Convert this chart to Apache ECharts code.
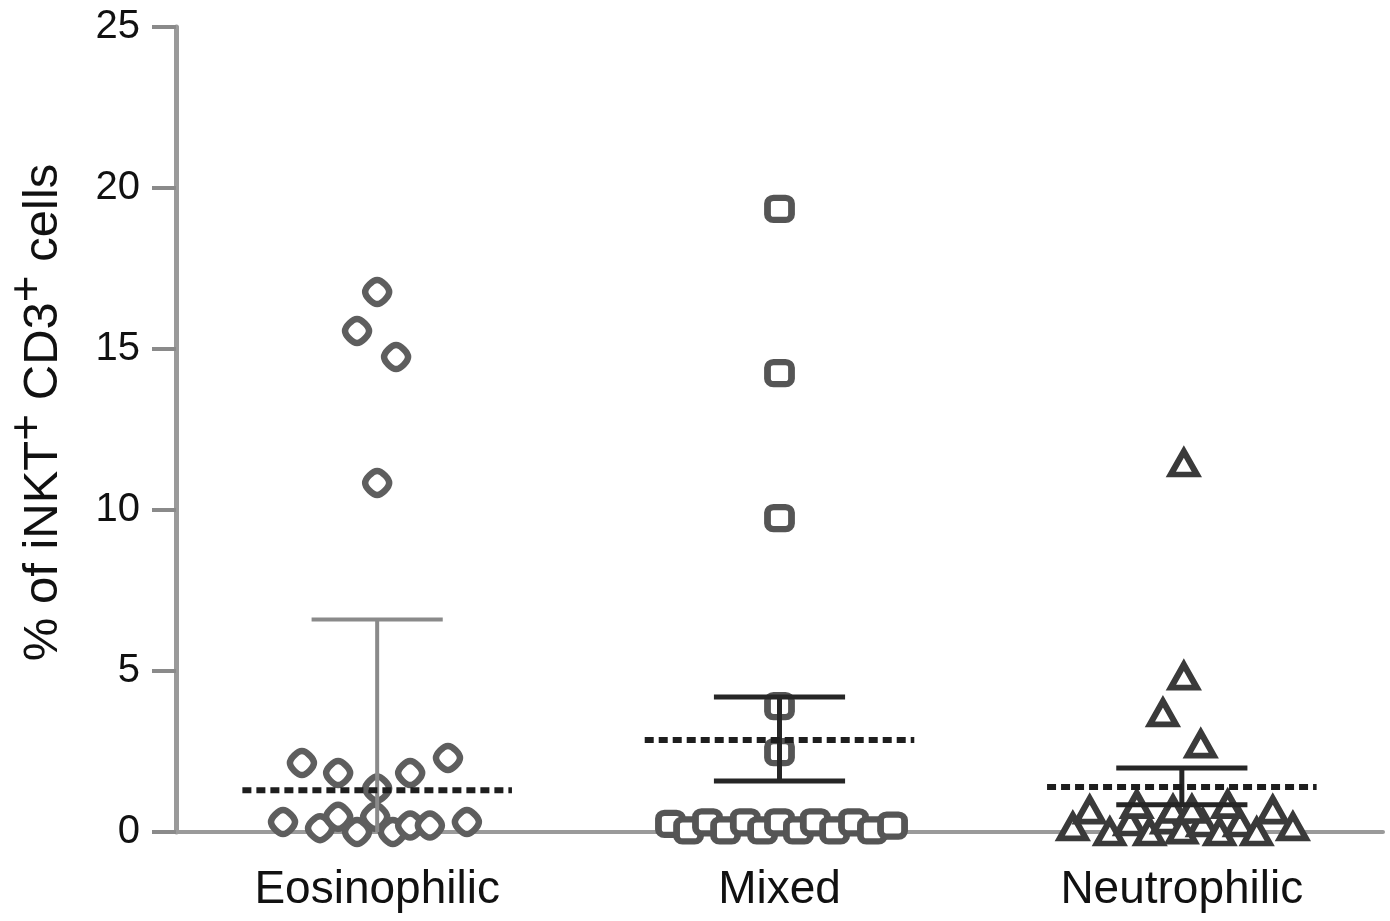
<!DOCTYPE html>
<html>
<head>
<meta charset="utf-8">
<script src="https://cdn.jsdelivr.net/npm/echarts@6/dist/echarts.min.js"></script>
<style>
html,body{margin:0;padding:0;background:#fff;}
#chart{width:1390px;height:921px;}
</style>
</head>
<body>
<div id="chart"></div>
<script>
// ---- Data ----
var categories = ['Eosinophilic', 'Mixed', 'Neutrophilic'];
var yTicks = [0, 5, 10, 15, 20, 25];

// horizontal scatter offset of each point from its group centre (in category units)
var eosJitter = [0, -0.05, 0.047, 0, -0.187, -0.097, 0.082, 0.176, -0.234, -0.142, -0.097, -0.05, -0.005, 0.039, 0.082, 0.131, 0.223, 0];
var eosValues = [16.77, 15.56, 14.75, 10.84, 2.14, 1.83, 1.83, 2.30, 0.31, 0.12, 0.47, 0.0, 0.47, 0.0, 0.2, 0.2, 0.31, 1.35];

var mixJitter = [0, 0, 0, 0, 0, -0.271, -0.226, -0.179, -0.134, -0.085, -0.042, 0.0, 0.047, 0.089, 0.137, 0.184, 0.231, 0.281];
var mixValues = [19.35, 14.25, 9.75, 3.91, 2.48, 0.25, 0.05, 0.3, 0.05, 0.3, 0.05, 0.3, 0.05, 0.3, 0.05, 0.3, 0.05, 0.2];

var neuJitter = [0.005, 0.005, -0.047, 0.047, -0.271, -0.229, -0.179, -0.129, -0.08, -0.037, 0.0, 0.052, 0.094, 0.144, 0.186, 0.226, 0.276, -0.112, -0.022, 0.025, 0.114];
var neuValues = [11.46, 4.84, 3.70, 2.73, 0.16, 0.68, 0.0, 0.31, 0.0, 0.37, 0.06, 0.28, 0.0, 0.28, 0.0, 0.68, 0.16, 0.85, 0.7, 0.7, 0.85];

var means = [1.30, 2.86, 1.40];
var upper = [6.60, 4.19, 1.99];
var lower = [0.00, 1.58, 0.85];

// ---- Chart ----
var FONT = "'Liberation Sans', Arial, Helvetica, sans-serif";
var chart = echarts.init(document.getElementById('chart'), null, {renderer: 'canvas'});

function centre(i) { return i + 0.5; }
function pts(i, jit, vals) {
  return vals.map(function (v, k) { return [centre(i) + jit[k], v]; });
}
function seg(x1, y1, x2, y2, ls, z) {
  return {
    type: 'line', data: [[x1, y1], [x2, y2]], symbol: 'none', silent: true,
    lineStyle: ls, z: z || 5, animation: false
  };
}

var diamondPath = 'path://M50,0 Q64,0 82,18 Q100,36 100,50 Q100,64 82,82 Q64,100 50,100 Q36,100 18,82 Q0,64 0,50 Q0,36 18,18 Q36,0 50,0 Z';

var series = [
  {type: 'scatter', data: pts(0, eosJitter, eosValues), symbol: diamondPath, symbolSize: 24,
   itemStyle: {color: '#ffffff', borderColor: '#5e5e5e', borderWidth: 6.5, opacity: 1}, z: 3},
  {type: 'scatter', data: pts(1, mixJitter, mixValues), symbol: 'roundRect', symbolSize: [24, 22],
   itemStyle: {color: '#ffffff', borderColor: '#555555', borderWidth: 6.5, opacity: 1}, z: 3},
  {type: 'scatter', data: pts(2, neuJitter, neuValues), symbol: 'triangle', symbolSize: [26, 23],
   itemStyle: {color: '#ffffff', borderColor: '#3a3a3a', borderWidth: 6, opacity: 1}, z: 3}
];

var capHalf = 0.163, meanHalf = 0.335;
for (var i = 0; i < 3; i++) {
  var c = centre(i);
  var barStyle = i === 0 ? {color: '#8a8a8a', width: 4} : {color: '#262626', width: 5};
  series.push(seg(c, lower[i], c, upper[i], barStyle, 4));
  series.push(seg(c - capHalf, upper[i], c + capHalf, upper[i], barStyle, 5));
  if (i !== 0) series.push(seg(c - capHalf, lower[i], c + capHalf, lower[i], barStyle, 5));
  series.push(seg(c - meanHalf, means[i], c + meanHalf, means[i],
    {color: '#1e1e1e', width: 6, type: [9, 5]}, 6));
}

var option = {
  animation: false,
  backgroundColor: '#ffffff',
  grid: {left: 176, right: 7, top: 27, bottom: 89, containLabel: false, outerBoundsMode: 'none'},
  xAxis: {
    type: 'value', min: 0, max: 3, interval: 0.5,
    axisLine: {show: true, onZero: false, lineStyle: {color: '#9a9a9a', width: 4}},
    axisTick: {show: false},
    splitLine: {show: false},
    axisLabel: {
      show: true, margin: 35, color: '#111', fontSize: 46, fontFamily: FONT,
      showMinLabel: false, showMaxLabel: false,
      formatter: function (v) {
        for (var k = 0; k < categories.length; k++) {
          if (Math.abs(v - centre(k)) < 1e-6) return categories[k];
        }
        return '';
      }
    }
  },
  yAxis: {
    type: 'value', min: yTicks[0], max: yTicks[yTicks.length - 1], interval: yTicks[1] - yTicks[0],
    axisLine: {show: true, lineStyle: {color: '#9a9a9a', width: 5}},
    axisTick: {show: true, length: 24, lineStyle: {color: '#8a8a8a', width: 4}},
    splitLine: {show: false},
    axisLabel: {margin: 36, color: '#111', fontSize: 40, fontFamily: FONT},
    name: '% of iNKT{sup|+} CD3{sup|+} cells',
    nameLocation: 'middle',
    nameGap: 95,
    nameTextStyle: {
      color: '#111', fontSize: 49, fontFamily: FONT, lineHeight: 76,
      padding: [0, 0, 0, 34],
      rich: {
        sup: {fontSize: 46, fontFamily: FONT, color: '#111', lineHeight: 18, verticalAlign: 'top'}
      }
    }
  },
  series: series
};
chart.setOption(option);
</script>
</body>
</html>
